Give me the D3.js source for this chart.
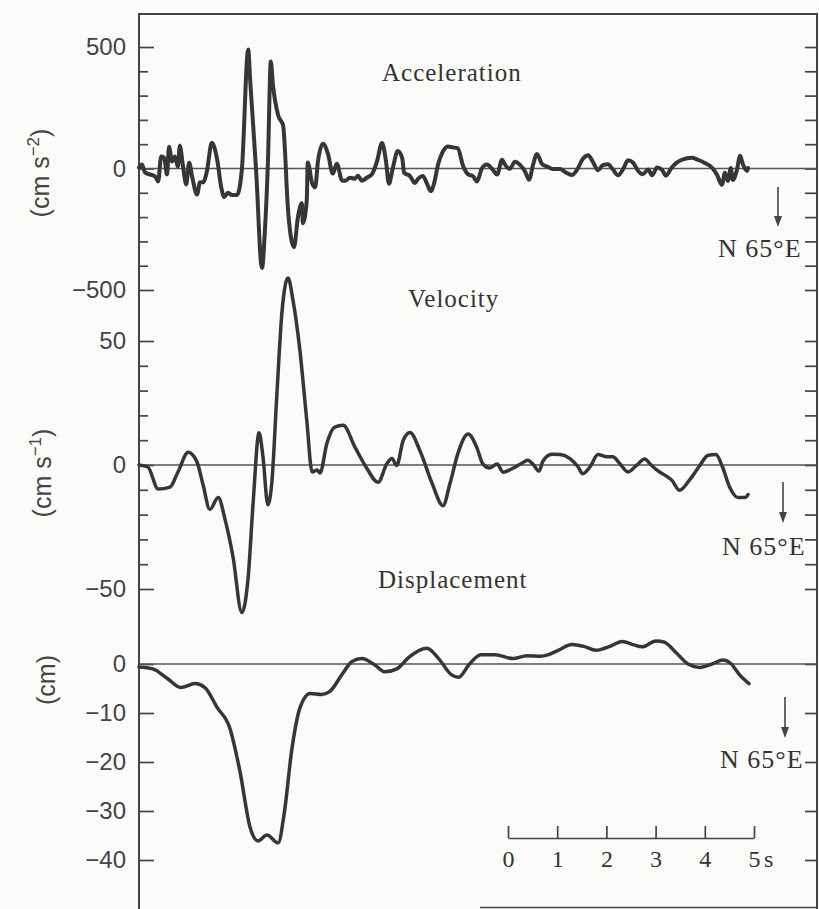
<!DOCTYPE html>
<html>
<head>
<meta charset="utf-8">
<script src="https://cdn.jsdelivr.net/npm/d3@7"></script>
<style>
  body { margin: 0; background: #fbfbf9; }
  svg { display: block; }
</style>
</head>
<body>
<svg id="chart" width="819" height="909"></svg>
<script>
// traces: time in s, value in the panel's units
var accelTime = [0,0.06,0.12,0.33,0.39,0.45,0.51,0.57,0.61,0.67,
  0.73,0.79,0.83,0.89,0.96,1.02,1.08,1.18,1.24,1.30,
  1.38,1.48,1.59,1.67,1.73,1.81,1.89,1.99,2.09,2.22,
  2.26,2.38,2.50,2.56,2.62,2.68,2.72,2.83,2.93,3.03,
  3.15,3.23,3.31,3.33,3.41,3.43,3.52,3.58,3.64,3.74,
  3.84,3.94,4.02,4.13,4.19,4.29,4.39,4.45,4.53,4.63,
  4.74,4.84,4.94,5.02,5.08,5.16,5.26,5.35,5.39,5.51,
  5.61,5.67,5.77,5.85,5.93,6.00,6.08,6.18,6.28,6.38,
  6.48,6.59,6.69,6.79,6.87,6.97,7.07,7.17,7.28,7.38,
  7.44,7.54,7.64,7.74,7.85,7.93,8.01,8.09,8.19,8.31,
  8.41,8.56,8.66,8.80,8.90,9.02,9.13,9.23,9.33,9.43,
  9.53,9.63,9.74,9.84,9.94,10.04,10.14,10.24,10.35,10.43,
  10.53,10.63,10.71,10.83,10.93,11.04,11.24,11.36,11.50,11.65,
  11.75,11.85,11.91,11.97,12.03,12.07,12.15,12.22,12.28,12.36,
  12.38];
var accelValue = [4,16,-16,-33,-53,49,45,-25,90,29,
  49,8,94,16,-66,24,-33,-107,-57,-57,
  -12,106,35,-76,-117,-100,-109,-109,-7,490,
  363,-6,-409,-253,22,440,350,218,177,-172,
  -324,-201,-143,-225,-131,25,-61,-78,33,102,
  61,-21,20,-50,-50,-38,-42,-30,-50,-38,
  -22,31,105,31,-63,2,72,43,-18,-31,
  -60,-43,-31,-60,-93,-60,17,71,91,87,
  83,9,-24,-32,-53,0,16,0,-25,36,
  16,-1,28,16,-13,-46,15,60,19,7,
  -2,-2,-14,-27,-7,39,55,26,-7,14,
  17,-3,-28,-3,34,25,-8,-24,-4,-28,
  4,-5,-29,4,24,36,44,36,23,3,
  -26,-67,-18,-51,2,-47,-10,52,15,-10,
  2];

var velTime = [0,0.18,0.39,0.63,0.79,1.00,1.18,1.30,1.44,1.61,
  1.75,1.91,2.09,2.22,2.32,2.44,2.52,2.62,2.70,2.80,
  2.91,3.03,3.13,3.27,3.41,3.52,3.62,3.68,3.82,3.98,
  4.15,4.39,4.63,4.86,5.04,5.14,5.24,5.37,5.51,5.71,
  5.96,6.18,6.32,6.48,6.69,6.87,6.99,7.13,7.28,7.40,
  7.60,7.78,7.90,8.01,8.13,8.21,8.39,8.56,8.76,8.92,
  9.02,9.17,9.33,9.51,9.63,9.78,9.94,10.12,10.28,10.39,
  10.53,10.69,10.83,10.99,11.20,11.40,11.57,11.73,11.85,12.01,
  12.17,12.32,12.38];
var velValue = [0,-0.8,-9.7,-8.9,-2.9,5.1,1.1,-7.8,-17.9,-13.1,
  -22.0,-36.9,-59.5,-45.0,-15.2,13.0,3.3,-16.0,-7.1,27.5,
  62.5,75.4,66.5,46.4,18.1,-2.8,-2.0,-3.2,8.8,15.3,
  16.0,7.2,-1.3,-7.0,0.6,2.6,-0.2,9.9,13.1,5.8,
  -7.5,-16.4,-7.6,4.5,12.5,6.9,0.4,-1.2,0.4,-2.9,
  -1.3,0.7,1.9,0.3,-2.5,1.5,4.3,4.2,2.6,-0.6,
  -3.5,-0.7,4.2,3.3,3.3,0.4,-2.8,0,2.4,0.4,
  -2.1,-4.1,-6.1,-10.2,-5.8,-0.2,3.9,4.2,-0.2,-9.1,
  -13.1,-13.1,-11.9];

var dispTime = [0,0.28,0.57,0.85,1.14,1.34,1.59,1.85,2.05,2.26,
  2.42,2.60,2.83,2.95,3.11,3.27,3.48,3.72,3.88,4.13,
  4.33,4.53,4.78,5.00,5.24,5.49,5.85,6.10,6.34,6.50,
  6.71,6.95,7.24,7.60,7.89,8.17,8.29,8.52,8.80,9.04,
  9.29,9.57,9.82,10.06,10.22,10.51,10.67,10.91,11.16,11.40,
  11.65,11.87,12.03,12.20,12.40];
var dispValue = [-0.6,-1.0,-2.9,-4.8,-4.0,-4.8,-8.9,-13.2,-21.8,-33.4,
  -36.1,-34.9,-36.5,-30.6,-17.2,-9.0,-6.0,-6.2,-5.6,-2.1,
  0.5,1.1,-0.1,-1.6,-1.0,1.4,3.2,1.0,-2.1,-2.7,
  -0.1,1.9,1.9,1.1,1.7,1.6,1.8,2.8,4.0,3.6,
  2.8,3.6,4.6,3.9,3.5,4.7,4.5,2.4,0,-0.7,
  0,0.8,0.1,-2.1,-4.0];

// axis ticks
var accelTicks = [-500,-400,-300,-200,-100,0,100,200,300,400,500];
var accelLabels = [-500,0,500];
var velTicks = [-50,-40,-30,-20,-10,0,10,20,30,40,50];
var velLabels = [-50,0,50];
var dispTicks = [-40,-30,-20,-10,0];
var dispLabels = [-40,-30,-20,-10,0];
var timeTicks = [0,1,2,3,4,5];

var ink = "#363636";
// frame edges (note: "top" is reserved on window, so prefix)
var frameLeft = 139, frameRight = 817, frameTop = 14, frameBottom = 909;

var svg = d3.select("#chart");

var x = d3.scaleLinear().domain([0, 12.4]).range([frameLeft, 749]);
var xBar = d3.scaleLinear().domain([0, 5]).range([508, 754]);
var yAcc = d3.scaleLinear().domain([-500, 500]).range([290, 47]);
var yVel = d3.scaleLinear().domain([-50, 50]).range([589, 341]);
var yDisp = d3.scaleLinear().domain([-40, 0]).range([860, 664]);

// frame
var frame = svg.append("g").attr("stroke", "#444").attr("stroke-width", 2).attr("fill", "none");
frame.append("path").attr("d", "M" + frameLeft + "," + frameBottom + "V" + frameTop +
  "H" + frameRight + "V" + frameBottom);
frame.append("path").attr("d", "M480,907.5H" + frameRight).attr("stroke-width", 1.5);

function styleAxis(g) {
  g.select(".domain").remove();
  g.selectAll(".tick line").attr("stroke", "#444").attr("stroke-width", 1.7);
  g.attr("font-family", "'Liberation Sans', Arial, sans-serif")
   .attr("font-size", 24);
  g.selectAll(".tick text").attr("fill", "#444");
}

function panelAxes(y, ticks, labels) {
  var minor = ticks.filter(function(v) { return labels.indexOf(v) < 0; });
  svg.append("g").attr("transform", "translate(" + frameLeft + ",0)")
    .call(d3.axisLeft(y).tickValues(minor).tickSize(-9).tickFormat(""))
    .call(styleAxis);
  svg.append("g").attr("transform", "translate(" + frameLeft + ",0)")
    .call(d3.axisLeft(y).tickValues(labels).tickSize(-15).tickPadding(13))
    .call(styleAxis);
  svg.append("g").attr("transform", "translate(" + frameRight + ",0)")
    .call(d3.axisRight(y).tickValues(ticks).tickSize(-12).tickFormat(""))
    .call(styleAxis);
  // zero line
  svg.append("line")
    .attr("x1", frameLeft).attr("x2", frameRight)
    .attr("y1", y(0)).attr("y2", y(0))
    .attr("stroke", "#555").attr("stroke-width", 1.5);
}

panelAxes(yAcc, accelTicks, accelLabels);
panelAxes(yVel, velTicks, velLabels);
panelAxes(yDisp, dispTicks, dispLabels);

// traces
function trace(times, values, y, width) {
  var line = d3.line()
    .x(function(d) { return x(d[0]); })
    .y(function(d) { return y(d[1]); })
    .curve(d3.curveMonotoneX);
  svg.append("path")
    .datum(d3.zip(times, values))
    .attr("d", line)
    .attr("fill", "none")
    .attr("stroke", ink)
    .attr("stroke-width", width)
    .attr("stroke-linejoin", "round")
    .attr("stroke-linecap", "round");
}
trace(accelTime, accelValue, yAcc, 4);
trace(velTime, velValue, yVel, 3.5);
trace(dispTime, dispValue, yDisp, 3.5);

// unit labels, rotated
function unitLabel(cx, cy, base, sup) {
  var t = svg.append("text")
    .attr("transform", "translate(" + cx + "," + cy + ") rotate(-90)")
    .attr("text-anchor", "middle")
    .attr("font-family", "'Liberation Sans', Arial, sans-serif")
    .attr("font-size", 25)
    .attr("fill", "#444");
  t.append("tspan").text(base);
  if (sup) {
    t.append("tspan").attr("dy", -10).attr("font-size", 17).text(sup);
    t.append("tspan").attr("dy", 10).text(")");
  }
}
unitLabel(49, 173, "(cm s", "\u22122");
unitLabel(51, 473, "(cm s", "\u22121");
unitLabel(55, 680, "(cm)", null);

// panel titles and direction labels
var serif = "'Liberation Serif', 'Times New Roman', serif";
function label(tx, ty, str, size) {
  svg.append("text").attr("x", tx).attr("y", ty)
    .attr("font-family", serif).attr("font-size", size)
    .attr("letter-spacing", 1)
    .attr("fill", "#333").text(str);
}
label(382, 81, "Acceleration", 25);
label(408, 307, "Velocity", 25);
label(378, 588, "Displacement", 25);
label(718, 257, "N 65\u00b0E", 26);
label(722, 555, "N 65\u00b0E", 26);
label(720, 768, "N 65\u00b0E", 26);

// direction arrows
[[778, 187, 227], [783, 482, 523], [785, 697, 738]].forEach(function(a) {
  svg.append("line").attr("x1", a[0]).attr("x2", a[0])
    .attr("y1", a[1]).attr("y2", a[2] - 8)
    .attr("stroke", "#444").attr("stroke-width", 1.6);
  svg.append("path")
    .attr("d", "M" + (a[0] - 4) + "," + (a[2] - 11) + "L" + (a[0] + 4) + "," + (a[2] - 11) + "L" + a[0] + "," + a[2] + "Z")
    .attr("fill", "#444");
});

// time scale bar
var bar = svg.append("g").attr("transform", "translate(0,838)")
  .call(d3.axisBottom(xBar).tickValues(timeTicks).tickSize(-12).tickSizeOuter(0)
    .tickPadding(12).tickFormat(d3.format("d")));
bar.select(".domain").attr("stroke", "#444").attr("stroke-width", 1.7);
bar.selectAll(".tick line").attr("stroke", "#444").attr("stroke-width", 1.7);
bar.attr("font-family", serif).attr("font-size", 24);
bar.selectAll(".tick text").attr("fill", "#333");
svg.append("text").attr("x", 764).attr("y", 867)
  .attr("font-family", serif).attr("font-size", 24)
  .attr("fill", "#333").text("s");
</script>
</body>
</html>
